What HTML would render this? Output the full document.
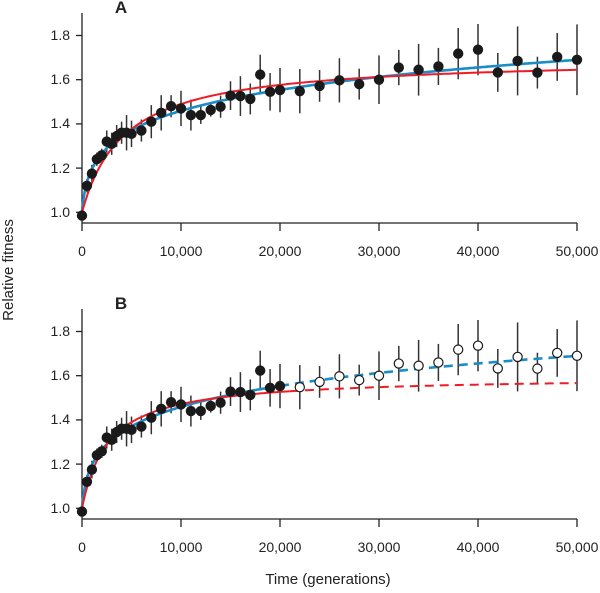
<!DOCTYPE html>
<html><head><meta charset="utf-8"><style>
html,body{margin:0;padding:0;background:#fff;}
svg{display:block;font-family:"Liberation Sans",Arial,sans-serif;}
</style></head><body>
<svg id="s" width="600" height="593" viewBox="0 0 600 593" xmlns="http://www.w3.org/2000/svg">
<text x="13" y="270" font-size="15" text-anchor="middle" transform="rotate(-90 13 270)" fill="#222">Relative fitness</text>
<text x="328" y="584" font-size="15" text-anchor="middle" fill="#222">Time (generations)</text>
<text x="121" y="13" font-size="17" font-weight="bold" text-anchor="middle" fill="#222">A</text>
<text x="121" y="309" font-size="17" font-weight="bold" text-anchor="middle" fill="#222">B</text>
<g font-size="14" fill="#222" text-anchor="end">
<text x="70" y="40">1.8</text><text x="70" y="84">1.6</text><text x="70" y="128">1.4</text><text x="70" y="173">1.2</text><text x="70" y="217">1.0</text>
<text x="70" y="336">1.8</text><text x="70" y="380">1.6</text><text x="70" y="424">1.4</text><text x="70" y="469">1.2</text><text x="70" y="513">1.0</text>
</g>
<g font-size="14" fill="#222" text-anchor="middle">
<text x="82" y="256">0</text><text x="181" y="256">10,000</text><text x="280" y="256">20,000</text><text x="379" y="256">30,000</text><text x="478" y="256">40,000</text><text x="577" y="256">50,000</text>
<text x="82" y="552">0</text><text x="181" y="552">10,000</text><text x="280" y="552">20,000</text><text x="379" y="552">30,000</text><text x="478" y="552">40,000</text><text x="577" y="552">50,000</text>
</g>
<g id="g"></g>
</svg>
<script>
var NS="http://www.w3.org/2000/svg",g=document.getElementById("g");
function el(n,a){var e=document.createElementNS(NS,n);for(var k in a)e.setAttribute(k,a[k]);g.appendChild(e);return e;}
var D=[[0,0.985,0],[500,1.12,0.03],[1000,1.175,0.04],[1500,1.24,0.03],[2000,1.258,0.03],[2500,1.32,0.05],[3000,1.31,0.05],[3500,1.345,0.05],[4000,1.36,0.05],[4500,1.36,0.08],[5000,1.355,0.06],[6000,1.37,0.05],[7000,1.41,0.075],[8000,1.45,0.08],[9000,1.48,0.05],[10000,1.47,0.08],[11000,1.44,0.07],[12000,1.44,0.04],[13000,1.463,0.03],[14000,1.478,0.05],[15000,1.528,0.065],[16000,1.526,0.09],[17000,1.513,0.07],[18000,1.623,0.09],[19000,1.545,0.085],[20000,1.553,0.1],[22000,1.548,0.1],[24000,1.572,0.072],[26000,1.597,0.1],[28000,1.58,0.07],[30000,1.6,0.11],[32000,1.655,0.08],[34000,1.645,0.117],[36000,1.66,0.084],[38000,1.718,0.116],[40000,1.736,0.116],[42000,1.633,0.088],[44000,1.685,0.156],[46000,1.632,0.072],[48000,1.703,0.108],[50000,1.69,0.16]];
function X(t){return 82+t*0.0099;}
function blue(t){return Math.pow(1+0.006*t,0.0919);}
function redA(t){return 1+0.700*t/(t+4289);}
function redB(t){return 1+0.597*t/(t+2669);}
function path(f,t0,t1,off){var d="";for(var t=t0;t<=t1;t+=(t<2000?20:200)){d+=(d?"L":"M")+X(t).toFixed(1)+","+(off+212.3-(f(t)-1)*221).toFixed(1);}return d;}
function panel(off,B){
  el("line",{x1:82,y1:off+13,x2:82,y2:off+223,stroke:"#222","stroke-width":1.3});
  el("line",{x1:82,y1:off+223,x2:577,y2:off+223,stroke:"#222","stroke-width":1.3});
  for(var i=0;i<5;i++){var y=off+212.3-i*44.2;el("line",{x1:76,y1:y,x2:82,y2:y,stroke:"#222","stroke-width":1.3});}
  for(var i=0;i<6;i++){var x=X(i*10000);el("line",{x1:x,y1:off+223,x2:x,y2:off+231,stroke:"#222","stroke-width":1.3});}
  D.forEach(function(p){if(p[2]>0){var x=X(p[0]);el("line",{x1:x,y1:off+212.3-(p[1]+p[2]-1)*221,x2:x,y2:off+212.3-(p[1]-p[2]-1)*221,stroke:"#333","stroke-width":1.5});}});
  if(!B){
    el("path",{d:path(blue,0,50000,off),fill:"none",stroke:"#1a8cc8","stroke-width":2.6});
    el("path",{d:path(redA,0,50000,off),fill:"none",stroke:"#ee1c25","stroke-width":2});
  } else {
    el("path",{d:path(blue,0,20000,off),fill:"none",stroke:"#1a8cc8","stroke-width":2.6});
    el("path",{d:path(redB,0,21000,off),fill:"none",stroke:"#ee1c25","stroke-width":2});
    el("path",{d:path(blue,20000,50000,off),fill:"none",stroke:"#1a8cc8","stroke-width":2.6,"stroke-dasharray":"9,6"});
    el("path",{d:path(redB,21000,50000,off),fill:"none",stroke:"#ee1c25","stroke-width":2,"stroke-dasharray":"9,6"});
  }
  D.forEach(function(p){var open=B&&p[0]>20000;el("circle",{cx:X(p[0]),cy:off+212.3-(p[1]-1)*221,r:4.6,fill:open?"#fff":"#1a1a1a",stroke:"#1a1a1a","stroke-width":1.2});});
}
panel(0,false);panel(296,true);
</script>
</body></html>
